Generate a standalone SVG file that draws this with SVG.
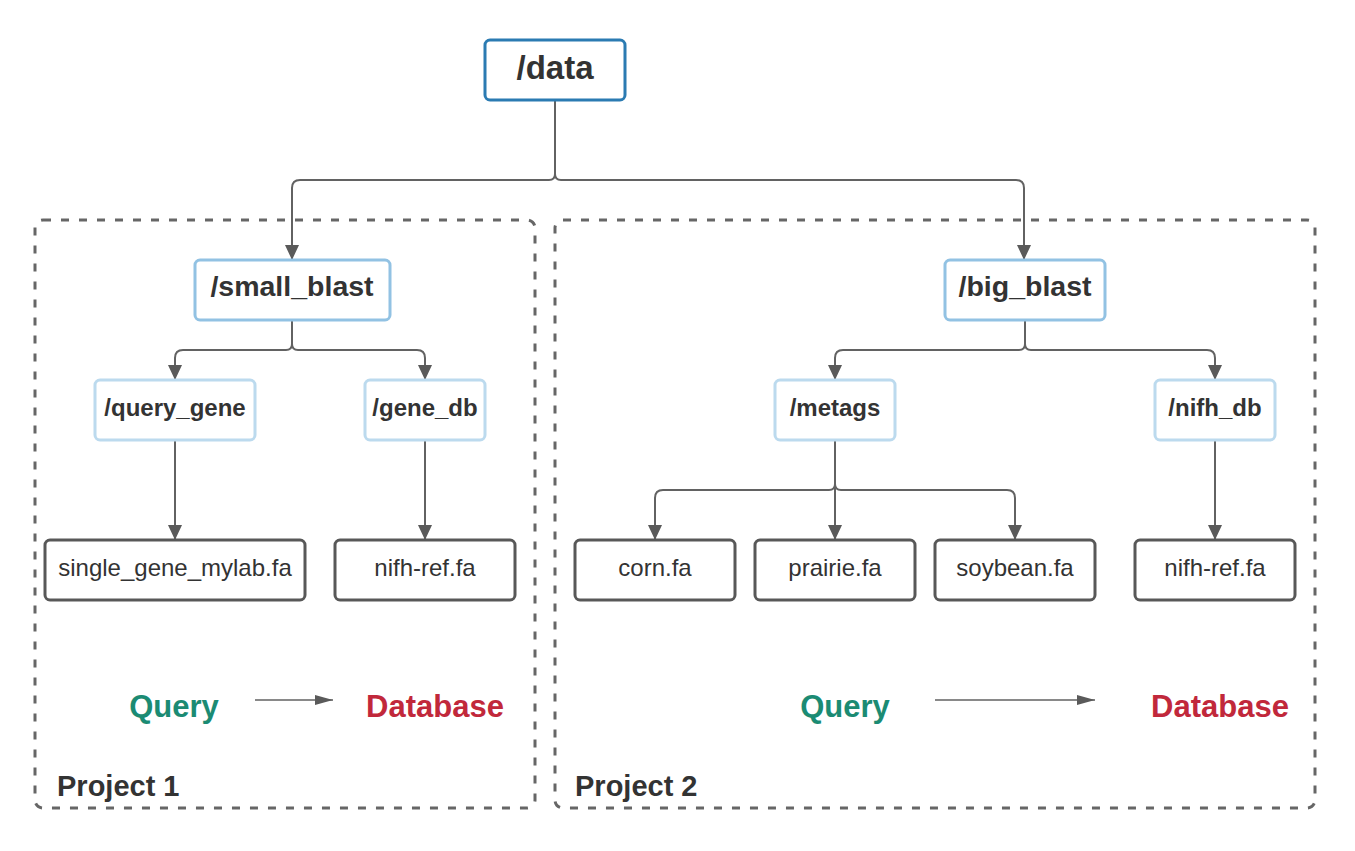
<svg xmlns="http://www.w3.org/2000/svg" width="1355" height="851" viewBox="0 0 1355 851">
<style>
.bg{fill:#ffffff}
.proj{fill:none;stroke:#666666;stroke-width:3;stroke-dasharray:8 10}
.root{fill:#ffffff;stroke:#2b7bb2;stroke-width:3}
.dir1{fill:#ffffff;stroke:#92c2e3;stroke-width:3}
.dir2{fill:#ffffff;stroke:#bcdaee;stroke-width:3}
.file{fill:#ffffff;stroke:#585858;stroke-width:3}
.t{font-family:"Liberation Sans",Arial,sans-serif;fill:#333333;text-anchor:middle}
.b{font-weight:bold}
.conn{fill:none;stroke:#626262;stroke-width:2}
.q{fill:#1b8b73}
.db{fill:#c1283b}
</style>
<defs>
<marker id="ah" markerUnits="userSpaceOnUse" markerWidth="15" markerHeight="16" refX="15" refY="8" orient="auto">
<path d="M0,1 L15,8 L0,15 z" fill="#5a5a5a"/>
</marker>
<marker id="ah2" markerUnits="userSpaceOnUse" markerWidth="18" markerHeight="12" refX="18" refY="6" orient="auto">
<path d="M0,1 L18,6 L0,11 z" fill="#5a5a5a"/>
</marker>
</defs>
<rect class="bg" x="0" y="0" width="1355" height="851"/>

<g id="project1">
<rect class="proj" x="35" y="220" width="500" height="588" rx="8"/>
<text class="t b" x="57" y="796" font-size="29" style="text-anchor:start">Project 1</text>
</g>
<g id="project2">
<rect class="proj" x="555" y="220" width="760" height="588" rx="8"/>
<text class="t b" x="575" y="796" font-size="29" style="text-anchor:start">Project 2</text>
</g>

<g id="connectors">
<path class="conn" d="M555,101 V174 Q555,180 549,180 H300 Q292,180 292,188 V260" marker-end="url(#ah)"/>
<path class="conn" d="M555,174 Q555,180 561,180 H1016 Q1024,180 1024,188 V260" marker-end="url(#ah)"/>
<path class="conn" d="M292,321 V344 Q292,350 286,350 H183 Q175,350 175,358 V380" marker-end="url(#ah)"/>
<path class="conn" d="M292,344 Q292,350 298,350 H417 Q425,350 425,358 V380" marker-end="url(#ah)"/>
<path class="conn" d="M175,441 V540" marker-end="url(#ah)"/>
<path class="conn" d="M425,441 V540" marker-end="url(#ah)"/>
<path class="conn" d="M1025,321 V344 Q1025,350 1019,350 H843 Q835,350 835,358 V380" marker-end="url(#ah)"/>
<path class="conn" d="M1025,344 Q1025,350 1031,350 H1207 Q1215,350 1215,358 V380" marker-end="url(#ah)"/>
<path class="conn" d="M835,441 V540" marker-end="url(#ah)"/>
<path class="conn" d="M835,484 Q835,490 829,490 H663 Q655,490 655,498 V540" marker-end="url(#ah)"/>
<path class="conn" d="M835,484 Q835,490 841,490 H1007 Q1015,490 1015,498 V540" marker-end="url(#ah)"/>
<path class="conn" d="M1215,441 V540" marker-end="url(#ah)"/>
<path class="conn" style="stroke-width:1.5" d="M255,700 H333" marker-end="url(#ah2)"/>
<path class="conn" style="stroke-width:1.5" d="M935,700 H1095" marker-end="url(#ah2)"/>
</g>

<g id="data"><rect class="root" x="485" y="40" width="140" height="60" rx="5"/><text class="t b" x="555" y="79" font-size="33">/data</text></g>
<g id="small_blast"><rect class="dir1" x="195" y="260" width="195" height="60" rx="5"/><text class="t b" x="292" y="296" font-size="28.5">/small_blast</text></g>
<g id="big_blast"><rect class="dir1" x="945" y="260" width="160" height="60" rx="5"/><text class="t b" x="1025" y="296" font-size="28.5">/big_blast</text></g>
<g id="query_gene"><rect class="dir2" x="95" y="380" width="160" height="60" rx="5"/><text class="t b" x="175" y="416" font-size="24">/query_gene</text></g>
<g id="gene_db"><rect class="dir2" x="365" y="380" width="120" height="60" rx="5"/><text class="t b" x="425" y="416" font-size="24">/gene_db</text></g>
<g id="metags"><rect class="dir2" x="775" y="380" width="120" height="60" rx="5"/><text class="t b" x="835" y="416" font-size="24">/metags</text></g>
<g id="nifh_db"><rect class="dir2" x="1155" y="380" width="120" height="60" rx="5"/><text class="t b" x="1215" y="416" font-size="24">/nifh_db</text></g>
<g id="single_gene"><rect class="file" x="45" y="540" width="260" height="60" rx="5"/><text class="t" x="175" y="576" font-size="24">single_gene_mylab.fa</text></g>
<g id="nifh_ref1"><rect class="file" x="335" y="540" width="180" height="60" rx="5"/><text class="t" x="425" y="576" font-size="24">nifh-ref.fa</text></g>
<g id="corn"><rect class="file" x="575" y="540" width="160" height="60" rx="5"/><text class="t" x="655" y="576" font-size="24">corn.fa</text></g>
<g id="prairie"><rect class="file" x="755" y="540" width="160" height="60" rx="5"/><text class="t" x="835" y="576" font-size="24">prairie.fa</text></g>
<g id="soybean"><rect class="file" x="935" y="540" width="160" height="60" rx="5"/><text class="t" x="1015" y="576" font-size="24">soybean.fa</text></g>
<g id="nifh_ref2"><rect class="file" x="1135" y="540" width="160" height="60" rx="5"/><text class="t" x="1215" y="576" font-size="24">nifh-ref.fa</text></g>

<g id="legend1">
<text class="t b q" x="174" y="717" font-size="31">Query</text>
<text class="t b db" x="435" y="717" font-size="31">Database</text>
</g>
<g id="legend2">
<text class="t b q" x="845" y="717" font-size="31">Query</text>
<text class="t b db" x="1220" y="717" font-size="31">Database</text>
</g>
</svg>
